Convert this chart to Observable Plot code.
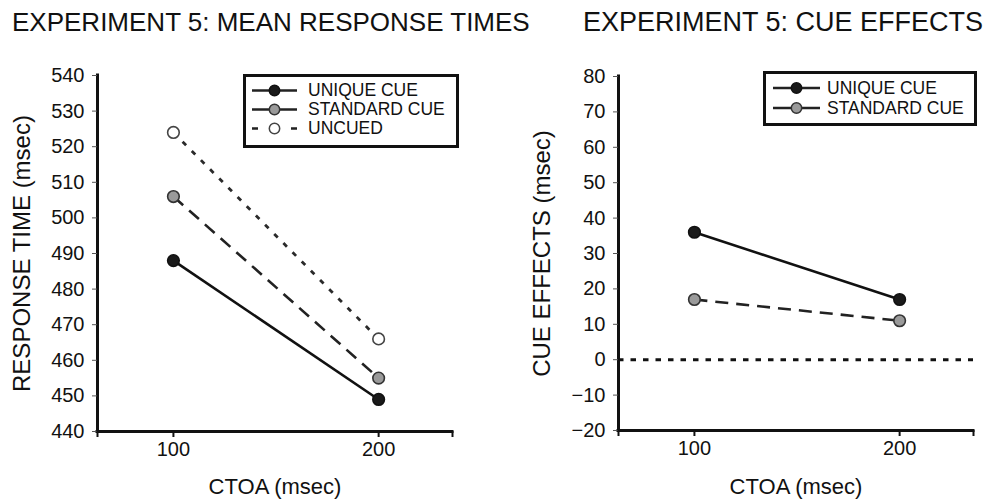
<!DOCTYPE html>
<html>
<head>
<meta charset="utf-8">
<script src="https://cdn.jsdelivr.net/npm/d3@7"></script>
<script src="https://cdn.jsdelivr.net/npm/@observablehq/plot@0.6"></script>
<style>
  html, body { margin: 0; padding: 0; background: #fff; }
  body { font-family: "Liberation Sans", Arial, Helvetica, sans-serif; color: #111; }
  #wrap { position: relative; width: 994px; height: 500px; overflow: hidden; }
  .panel { position: absolute; top: 0; width: 497px; height: 500px; }
  .title { position: absolute; top: 5px; white-space: nowrap; line-height: 34px; }
  .chart { position: absolute; top: 45px; left: 0; }
  .legend { position: absolute; box-sizing: border-box; border: 3px solid #111; background: #fff; }
  .legend .row { display: flex; align-items: center; font-size: 17.5px; white-space: nowrap; }
  .legend svg { display: block; flex: none; }
</style>
</head>
<body>
<div id="wrap"></div>
<script>
// ---------- data ----------
const ctoa = [100, 200];
const xTickLabels = [100, 200];

const seriesNames = ["UNIQUE CUE", "STANDARD CUE", "UNCUED"];
const rtUnique = [488, 449];
const rtStandard = [506, 455];
const rtUncued = [524, 466];
const rtTicks = [440, 450, 460, 470, 480, 490, 500, 510, 520, 530, 540];

const effUnique = [36, 17];
const effStandard = [17, 11];
const effTicks = [-20, -10, 0, 10, 20, 30, 40, 50, 60, 70, 80];

const titles = ["EXPERIMENT 5: MEAN RESPONSE TIMES", "EXPERIMENT 5: CUE EFFECTS"];
const yLabels = ["RESPONSE TIME (msec)", "CUE EFFECTS (msec)"];
const xLabel = "CTOA (msec)";

// ---------- styles ----------
const styles = {
  "UNIQUE CUE":   {stroke: "#111", dash: null,   fill: "#1a1a1a", dotStroke: "#111", legendDash: null},
  "STANDARD CUE": {stroke: "#222", dash: "13,8", fill: "#9a9a9a", dotStroke: "#333", legendDash: null},
  "UNCUED":       {stroke: "#2a2a2a", dash: "5,8", fill: "#fff",   dotStroke: "#444", legendDash: "6,33,6"}
};

function toRows(names, arrays) {
  const rows = [];
  names.forEach((n, i) => arrays[i].forEach((v, j) => rows.push({series: n, ctoa: ctoa[j], value: v})));
  return rows;
}

const rtRows = toRows(seriesNames, [rtUnique, rtStandard, rtUncued]);
const effRows = toRows(seriesNames.slice(0, 2), [effUnique, effStandard]);

const xDomain = [63, 236];
const font = '"Liberation Sans", Arial, Helvetica, sans-serif';

function makePlot({rows, names, yTicks, yLabel, margins, zero}) {
  const yDomain = [yTicks[0], yTicks[yTicks.length - 1]];
  const marks = [];
  if (zero) {
    marks.push(Plot.ruleY([0], {stroke: "#111", strokeWidth: 3, strokeDasharray: "5.5,7"}));
  }
  for (const n of names) {
    const s = styles[n];
    const data = rows.filter(d => d.series === n);
    marks.push(Plot.line(data, {x: "ctoa", y: "value", stroke: s.stroke, strokeWidth: n === "UNCUED" ? 2.8 : 2.6,
      strokeDasharray: s.dash ?? undefined, strokeLinecap: "butt"}));
  }
  for (const n of names) {
    const s = styles[n];
    const data = rows.filter(d => d.series === n);
    marks.push(Plot.dot(data, {x: "ctoa", y: "value", r: 5.8, fill: s.fill, stroke: s.dotStroke, strokeWidth: 1.6}));
  }
  // axis lines
  marks.push(Plot.ruleX([xDomain[0]], {stroke: "#111", strokeWidth: 3, strokeLinecap: "square"}));
  marks.push(Plot.ruleY([yDomain[0]], {stroke: "#111", strokeWidth: 3, strokeLinecap: "square"}));
  marks.push(Plot.axisY({ticks: yTicks, tickSize: 5, tickPadding: 8, fontSize: 20, stroke: "#555", strokeWidth: 1,
    tickFormat: d3.format("d"), label: yLabel, labelAnchor: "center", labelArrow: "none", labelOffset: margins.labelY}));
  marks.push(Plot.axisX({ticks: [xDomain[0], ...xTickLabels, xDomain[1]], tickSize: 6, tickPadding: 4, fontSize: 20,
    strokeWidth: 2, stroke: "#111",
    tickFormat: d => xTickLabels.includes(d) ? String(d) : "", label: null}));
  marks.push(Plot.axisX({ticks: [], tickSize: 0, label: xLabel, labelAnchor: "center", labelArrow: "none",
    labelOffset: margins.labelX}));
  const svg = Plot.plot({
    width: 497,
    height: 455,
    marginLeft: margins.left,
    marginRight: margins.right,
    marginTop: margins.top,
    marginBottom: margins.bottom,
    x: {domain: xDomain},
    y: {domain: yDomain},
    style: {fontFamily: font, color: "#111", background: "transparent", overflow: "visible", fontSize: "22px"},
    marks
  });
  d3.select(svg).selectAll('g[aria-label="y-axis label"]').attr("font-size", 24);
  d3.select(svg).selectAll('g[aria-label="x-axis label"]').attr("font-size", 22);
  return svg;
}

function legend(parent, names, box) {
  const el = document.createElement("div");
  el.className = "legend";
  Object.assign(el.style, {left: box.left + "px", top: box.top + "px", width: box.width + "px", height: box.height + "px",
    paddingTop: box.padTop + "px", paddingLeft: box.padLeft + "px"});
  for (const n of names) {
    const s = styles[n];
    const row = document.createElement("div");
    row.className = "row";
    row.style.height = box.rowH + "px";
    const w = box.swatchW;
    const svg = d3.create("svg").attr("width", w).attr("height", box.rowH);
    svg.append("line").attr("x1", 0).attr("x2", w).attr("y1", box.rowH / 2).attr("y2", box.rowH / 2)
      .attr("stroke", "#222").attr("stroke-width", 2.6).attr("stroke-dasharray", s.legendDash);
    svg.append("circle").attr("cx", w / 2).attr("cy", box.rowH / 2).attr("r", 5.2)
      .attr("fill", s.fill).attr("stroke", s.dotStroke).attr("stroke-width", 1.5);
    row.appendChild(svg.node());
    const t = document.createElement("span");
    t.textContent = n;
    t.style.marginLeft = box.gap + "px";
    row.appendChild(t);
    el.appendChild(row);
  }
  parent.appendChild(el);
}

const wrap = document.getElementById("wrap");
const configs = [
  {rows: rtRows, names: seriesNames, yTicks: rtTicks, yLabel: yLabels[0], zero: false,
   margins: {left: 97, right: 45, top: 30, bottom: 69, labelY: 85, labelX: 62},
   titleLeft: 12, titleSize: 26,
   legendBox: {left: 243, top: 74, width: 216, height: 74, padTop: 4, padLeft: 6, rowH: 19, swatchW: 45, gap: 11}},
  {rows: effRows, names: seriesNames.slice(0, 2), yTicks: effTicks, yLabel: yLabels[1], zero: true,
   margins: {left: 121, right: 21, top: 31, bottom: 70, labelY: 86, labelX: 63},
   titleLeft: 86, titleSize: 27,
   legendBox: {left: 266, top: 71, width: 214, height: 55, padTop: 4, padLeft: 7, rowH: 20, swatchW: 47, gap: 7}}
];

configs.forEach((c, i) => {
  const p = document.createElement("div");
  p.className = "panel";
  p.style.left = (i * 497) + "px";
  const t = document.createElement("div");
  t.className = "title";
  t.style.left = c.titleLeft + "px";
  t.style.fontSize = c.titleSize + "px";
  t.textContent = titles[i];
  p.appendChild(t);
  const chart = makePlot(c);
  chart.classList.add("chart");
  p.appendChild(chart);
  legend(p, c.names, c.legendBox);
  wrap.appendChild(p);
});
</script>
</body>
</html>
